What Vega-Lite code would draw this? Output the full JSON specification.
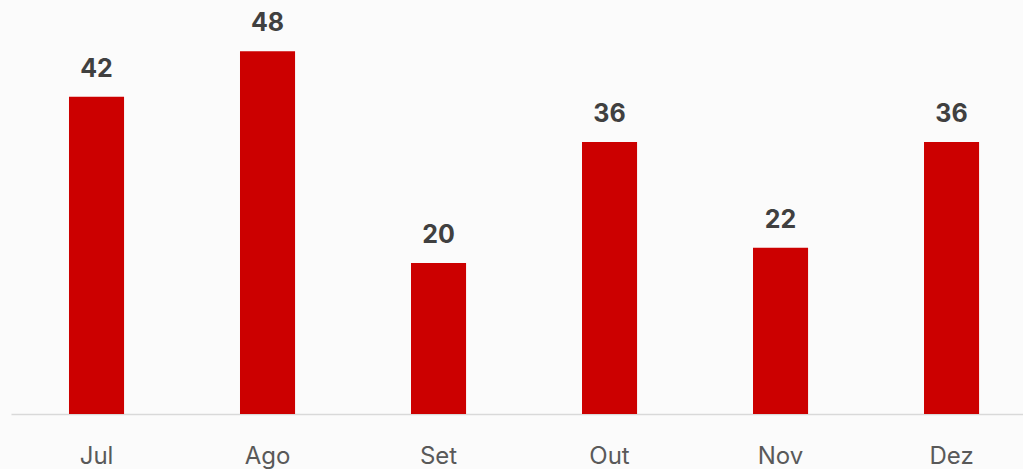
{
  "$schema": "https://vega.github.io/schema/vega-lite/v6.json",
  "autosize": "none",
  "width": 1012,
  "height": 408,
  "padding": {"left": 11, "top": 6, "right": 0, "bottom": 55},
  "background": "#fbfbfb",
  "config": {"view": {"stroke": null}, "font": "Inter"},
  "data": {"values": [
    {"mes": "Jul", "valor": 42},
    {"mes": "Ago", "valor": 48},
    {"mes": "Set", "valor": 20},
    {"mes": "Out", "valor": 36},
    {"mes": "Nov", "valor": 22},
    {"mes": "Dez", "valor": 36}
  ]},
  "encoding": {
    "x": {
      "field": "mes", "type": "nominal", "sort": null,
      "scale": {"paddingInner": 0.678, "paddingOuter": 0.298, "align": 0.569},
      "axis": {"title": null, "labelAngle": 0, "ticks": false, "domainColor": "#d9d9d9", "domainWidth": 1.5,
               "labelFontSize": 24, "labelColor": "#595959", "labelPadding": 30, "labelFont": "Inter", "grid": false}
    },
    "y": {
      "field": "valor", "type": "quantitative",
      "scale": {"domain": [0, 54]},
      "axis": null
    }
  },
  "layer": [
    {"mark": {"type": "bar", "color": "#cc0000"}},
    {"mark": {"type": "text", "dy": -20, "baseline": "alphabetic", "fontSize": 25, "fontWeight": "bold", "color": "#404040", "font": "Inter"},
     "encoding": {"text": {"field": "valor", "type": "quantitative"}}}
  ]
}
